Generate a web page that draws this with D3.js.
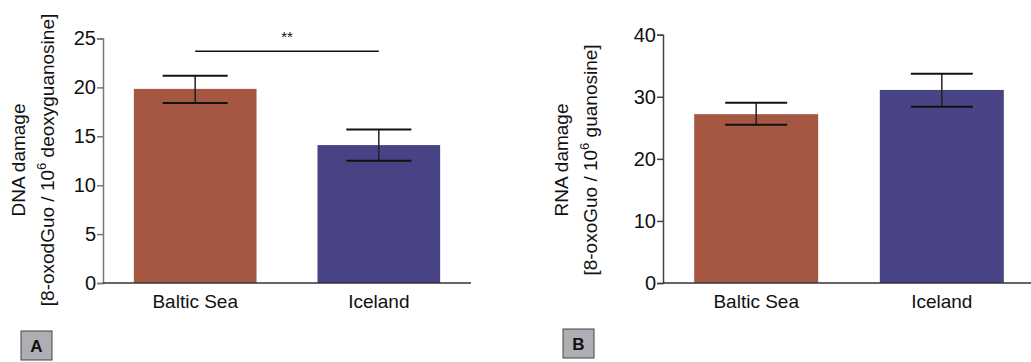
<!DOCTYPE html>
<html lang="en">
<head>
    <meta charset="UTF-8">
    <title>Oxidative damage</title>
    <script src="https://d3js.org/d3.v7.min.js"></script>
    <style>
        body { margin: 0; background: #fff; }
        text { font-family: "Liberation Sans", Arial, sans-serif; fill: #111; }
    </style>
</head>
<body>
    <div id="chart"></div>
    <script>

        const categories = ["Baltic Sea", "Iceland"];
        const colors = ["#a65741", "#484384"];

        // panel A: DNA damage
        const dnaMeans = [19.85, 14.1];
        const dnaLow = [18.4, 12.5];
        const dnaHigh = [21.2, 15.7];
        const dnaTicks = [0, 5, 10, 15, 20, 25];

        // panel B: RNA damage
        const rnaMeans = [27.2, 31.1];
        const rnaLow = [25.5, 28.4];
        const rnaHigh = [29.05, 33.7];
        const rnaTicks = [0, 10, 20, 30, 40];

        const width = 1031;
        const height = 362;

        const svg = d3.select("#chart")
            .append("svg")
            .attr("width", width)
            .attr("height", height);

        function drawPanel(opts) {
            const g = svg.append("g");

            const x = d3.scaleBand()
                .domain(categories)
                .range(opts.xRange)
                .paddingInner(0.332)
                .paddingOuter(0.168);

            const y = d3.scaleLinear()
                .domain([0, opts.max])
                .range([283, opts.top]);

            // bars
            g.selectAll(".bar")
                .data(categories)
                .join("rect")
                .attr("x", d => x(d))
                .attr("y", (d, i) => y(opts.means[i]))
                .attr("width", x.bandwidth())
                .attr("height", (d, i) => y(0) - y(opts.means[i]))
                .attr("fill", (d, i) => colors[i]);

            // error bars
            categories.forEach((c, i) => {
                const cx = x(c) + x.bandwidth() / 2;
                g.append("line")
                    .attr("x1", cx).attr("x2", cx)
                    .attr("y1", y(opts.high[i])).attr("y2", y(opts.low[i]))
                    .attr("stroke", "#222").attr("stroke-width", 1.5);
                [opts.high[i], opts.low[i]].forEach(v => {
                    g.append("line")
                        .attr("x1", cx - opts.cap).attr("x2", cx + opts.cap)
                        .attr("y1", y(v)).attr("y2", y(v))
                        .attr("stroke", "#111").attr("stroke-width", 2);
                });
            });

            // axes
            const yAxis = g.append("g")
                .attr("transform", `translate(${opts.xRange[0]},0)`)
                .call(d3.axisLeft(y).tickValues(opts.ticks).tickSize(6).tickPadding(1));
            yAxis.select(".domain").attr("stroke", opts.axisColor).attr("stroke-width", 1.5);
            yAxis.selectAll(".tick line").attr("stroke", opts.axisColor).attr("stroke-width", 1.5);
            yAxis.selectAll(".tick text")
                .style("font-size", "20px")
                .style("font-family", "Liberation Sans, Arial, sans-serif");

            const xAxis = g.append("g")
                .attr("transform", `translate(0,${y(0)})`)
                .call(d3.axisBottom(x).tickSize(0).tickPadding(12).tickSizeOuter(0));
            xAxis.select(".domain")
                .attr("d", `M${opts.xRange[0]},0H${opts.axisEnd}`)
                .attr("stroke", "#333").attr("stroke-width", 1.5);
            xAxis.selectAll(".tick text")
                .style("font-size", "19px")
                .style("font-family", "Liberation Sans, Arial, sans-serif");

            // y label
            const lab = g.append("g")
                .attr("transform", `translate(${opts.labelX},160) rotate(-90)`)
                .attr("text-anchor", "middle")
                .style("font-size", "19px");
            lab.append("text").attr("y", 0).text(opts.label1);
            const t2 = lab.append("text").attr("y", 29);
            t2.append("tspan").text(opts.label2a);
            t2.append("tspan").attr("dy", -8).style("font-size", "13px").text("6");
            t2.append("tspan").attr("dy", 8).text(opts.label2b);

            // panel letter
            svg.append("rect")
                .attr("x", opts.boxX).attr("y", opts.boxY)
                .attr("width", 31).attr("height", 29)
                .attr("fill", "#aeaeb4").attr("stroke", "#444").attr("stroke-width", 1);
            svg.append("text")
                .attr("x", opts.boxX + 15.5).attr("y", opts.boxY + 21)
                .attr("text-anchor", "middle")
                .style("font-size", "17px").style("font-weight", "bold")
                .text(opts.letter);

            return { g, x, y };
        }

        const a = drawPanel({
            xRange: [103, 471], axisEnd: 471, max: 25, top: 38.5, axisColor: "#777",
            means: dnaMeans, low: dnaLow, high: dnaHigh, ticks: dnaTicks, cap: 32.5,
            labelX: 25, label1: "DNA damage",
            label2a: "[8-oxodGuo / 10", label2b: " deoxyguanosine]",
            boxX: 21, boxY: 331, letter: "A"
        });

        drawPanel({
            xRange: [663, 1035], axisEnd: 1031, max: 40, top: 34.7, axisColor: "#444",
            means: rnaMeans, low: rnaLow, high: rnaHigh, ticks: rnaTicks, cap: 31,
            labelX: 568, label1: "RNA damage",
            label2a: "[8-oxoGuo / 10", label2b: " guanosine]",
            boxX: 563, boxY: 329, letter: "B"
        });

        // significance bracket in panel A
        const c1 = a.x(categories[0]) + a.x.bandwidth() / 2;
        const c2 = a.x(categories[1]) + a.x.bandwidth() / 2;
        a.g.append("line")
            .attr("x1", c1).attr("x2", c2)
            .attr("y1", 51.3).attr("y2", 51.3)
            .attr("stroke", "#111").attr("stroke-width", 1.5);
        a.g.append("text")
            .attr("x", (c1 + c2) / 2).attr("y", 42)
            .attr("text-anchor", "middle")
            .style("font-size", "15px")
            .text("**");

    </script>
</body>
</html>
